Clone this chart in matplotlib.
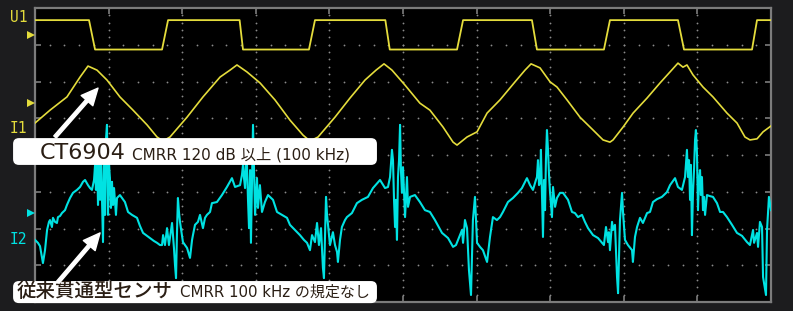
import numpy as np
import matplotlib
matplotlib.use("Agg")
import matplotlib.pyplot as plt
from matplotlib.patches import FancyBboxPatch

# Latin glyphs from DejaVu, Japanese falls through to Noto CJK
plt.rcParams['font.family'] = ['DejaVu Sans', 'Noto Sans CJK JP']

# scope screen: 5 us/div over 10 div, vertical in div from screen centre (+-4)
# U1 - square wave corners
u1_t = [0, 3.67, 4.08, 8.63, 9.04, 13.9, 14.13, 18.61, 19.02, 23.8, 24.1,
        28.67, 29.08, 33.76, 34.1, 38.65, 39.06, 43.68, 44.09, 48.71, 49.05, 50]
u1_v = [3.67, 3.67, 2.87, 2.87, 3.67, 3.67, 2.87, 2.87, 3.67, 3.67, 2.87,
        2.87, 3.67, 3.67, 2.87, 2.87, 3.67, 3.67, 2.87, 2.87, 3.67, 3.67]

# I1 - CT6904 current (t, v)
i1_pts = [(0.00, 0.87), (1.02, 1.22), (2.17, 1.58), (3.06, 2.12), (3.60, 2.42), (4.21, 2.31),
          (4.89, 2.04), (5.77, 1.58), (6.66, 1.22), (7.61, 0.82), (8.29, 0.49), (8.70, 0.38),
          (9.17, 0.49), (10.33, 1.03), (11.41, 1.58), (12.57, 2.12), (13.25, 2.31), (13.72, 2.45),
          (14.40, 2.26), (15.29, 1.96), (16.30, 1.50), (17.32, 0.95), (18.21, 0.54), (18.68, 0.38),
          (19.23, 0.49), (20.38, 1.03), (21.40, 1.55), (22.42, 2.04), (23.17, 2.31), (23.71, 2.48),
          (24.25, 2.31), (25.14, 1.90), (26.15, 1.41), (26.83, 1.22), (27.72, 0.76), (28.40, 0.35),
          (28.67, 0.27), (29.35, 0.49), (30.03, 0.63), (30.71, 1.14), (31.59, 1.50), (32.61, 1.99),
          (33.29, 2.31), (33.70, 2.48), (34.31, 2.37), (34.99, 1.99), (35.46, 1.85), (36.14, 1.50),
          (37.02, 1.03), (37.91, 0.68), (38.59, 0.41), (39.06, 0.35), (39.27, 0.41), (39.95, 0.76),
          (40.63, 1.14), (41.58, 1.55), (42.46, 1.96), (43.14, 2.26), (43.68, 2.50), (44.02, 2.39),
          (44.29, 2.45), (44.70, 2.18), (45.38, 1.85), (46.06, 1.58), (47.01, 1.14), (47.69, 0.87),
          (48.23, 0.49), (48.57, 0.41), (49.05, 0.44), (49.46, 0.63), (50.00, 0.79)]

# I2 - conventional through-type sensor (t, v)
i2_pts = [
    # period 1
    (0.00, -2.31), (0.20, -2.39), (0.34, -2.48), (0.54, -2.94), (0.68, -2.59), (0.82, -2.04),
    (0.95, -1.82), (1.02, -1.77), (1.15, -1.96), (1.22, -1.71), (1.36, -1.82), (1.49, -1.85),
    (1.56, -1.69), (1.70, -1.66), (1.83, -1.58), (2.04, -1.50), (2.17, -1.36), (2.38, -1.17),
    (2.58, -1.03), (2.85, -0.95), (3.06, -0.87), (3.26, -0.73), (3.40, -0.68), (3.60, -0.82),
    (3.74, -0.90), (3.87, -0.95), (4.01, -0.68), (4.08, -0.27), (4.14, -0.95), (4.21, 0.14),
    (4.28, -1.36), (4.35, 0.14), (4.42, -1.22), (4.48, 0.00), (4.62, -2.37), (4.69, 0.14),
    (4.76, -1.63), (4.82, 0.41), (4.89, 0.82), (4.96, -1.63), (5.03, -0.27), (5.09, -0.63),
    (5.16, -1.44), (5.23, -0.73), (5.30, -1.36), (5.37, -0.90), (5.50, -1.63), (5.57, -1.17),
    (5.77, -1.09), (6.11, -1.28), (6.32, -1.55), (6.59, -1.63), (6.93, -1.71), (7.13, -1.93),
    (7.34, -2.12), (7.61, -2.20), (7.81, -2.26), (8.08, -2.34), (8.29, -2.39), (8.49, -2.45),
    (8.63, -2.45), (8.70, -2.18), (8.83, -2.45), (8.97, -1.99), (9.10, -2.45), (9.31, -1.85),
    (9.44, -2.53), (9.51, -2.99), (9.58, -3.35), (9.65, -2.04), (9.71, -1.17), (9.78, -1.55),
    (9.85, -1.82), (10.05, -2.37), (10.19, -2.45), (10.33, -2.53), (10.53, -2.80), (10.67, -2.31),
    (10.73, -2.18), (10.87, -1.90), (11.07, -1.82), (11.21, -1.63), (11.41, -1.99), (11.55, -1.71),
    (11.68, -1.63), (11.89, -1.55), (12.02, -1.31), (12.36, -1.28), (12.70, -1.09), (13.04, -0.87),
    (13.38, -0.63), (13.59, -0.87), (13.79, -0.84), (13.93, -0.82), (14.06, -0.54),
    # period 2
    (14.13, -0.27), (14.20, -0.63), (14.27, -0.90), (14.33, -0.14), (14.40, -0.27), (14.47, -1.22),
    (14.54, -1.99), (14.61, -0.41), (14.67, -2.39), (14.74, -0.73), (14.81, 0.82), (14.88, -0.41),
    (14.95, -1.63), (15.08, -0.63), (15.15, -1.44), (15.28, -0.82), (15.42, -1.55), (15.62, -1.28),
    (15.83, -1.09), (16.17, -1.22), (16.44, -1.55), (16.78, -1.63), (17.12, -1.71), (17.32, -1.90),
    (17.66, -2.04), (18.00, -2.18), (18.27, -2.31), (18.48, -2.39), (18.68, -2.59), (18.82, -2.18),
    (19.02, -2.37), (19.16, -1.85), (19.29, -2.45), (19.43, -1.99), (19.56, -3.07), (19.63, -3.35),
    (19.77, -1.14), (19.84, -1.63), (20.04, -2.45), (20.24, -2.10), (20.38, -2.45), (20.52, -2.64),
    (20.58, -2.91), (20.72, -2.31), (20.85, -1.96), (21.06, -1.77), (21.19, -1.69), (21.53, -1.58),
    (21.87, -1.31), (22.21, -1.22), (22.62, -1.14), (22.96, -0.90), (23.44, -0.68), (23.78, -0.90),
    (23.98, -0.87),
    # period 3
    (24.12, -0.60), (24.18, -0.27), (24.25, 0.14), (24.32, -0.14), (24.39, -1.22), (24.46, -1.96),
    (24.52, -1.22), (24.59, -2.31), (24.66, -0.60), (24.73, -0.14), (24.80, 0.82), (24.86, -0.41),
    (24.93, -1.03), (25.00, -0.33), (25.14, -1.69), (25.27, -0.60), (25.34, -1.41), (25.48, -1.14),
    (25.81, -1.09), (26.15, -1.28), (26.49, -1.50), (26.83, -1.55), (27.17, -1.77), (27.65, -2.12),
    (28.06, -2.26), (28.40, -2.50), (28.60, -2.45), (28.74, -2.31), (28.87, -2.18), (29.01, -2.04),
    (29.08, -2.39), (29.21, -1.77), (29.35, -1.99), (29.48, -3.13), (29.62, -3.81), (29.75, -1.77),
    (29.89, -1.14), (30.03, -2.39), (30.23, -2.50), (30.43, -2.59), (30.71, -2.91), (30.91, -2.23),
    (31.11, -1.69), (31.38, -1.77), (31.59, -1.69), (31.79, -1.55), (32.13, -1.28), (32.47, -1.17),
    (32.81, -1.03), (33.08, -0.90), (33.42, -0.63), (33.63, -0.82), (33.83, -0.95), (34.03, -0.68),
    # period 4
    (34.10, -0.60), (34.17, -0.14), (34.24, -0.82), (34.31, -0.76), (34.37, 0.14), (34.51, -2.23),
    (34.58, -0.68), (34.65, -1.50), (34.71, -0.14), (34.78, 0.68), (34.85, 0.14), (34.92, -0.54),
    (34.99, -1.03), (35.12, -1.69), (35.19, -0.87), (35.33, -1.41), (35.46, -1.17), (35.67, -1.03),
    (35.87, -1.03), (36.21, -1.22), (36.48, -1.55), (36.68, -1.58), (36.89, -1.69), (37.16, -1.63),
    (37.36, -1.82), (37.57, -1.99), (37.91, -2.18), (38.25, -2.26), (38.52, -2.39), (38.65, -2.45),
    (38.79, -1.96), (38.93, -2.37), (38.99, -2.10), (39.06, -2.59), (39.20, -1.82), (39.27, -2.04),
    (39.40, -1.90), (39.54, -3.32), (39.61, -3.76), (39.74, -1.77), (39.88, -1.03), (39.95, -1.58),
    (40.08, -2.31), (40.28, -2.45), (40.56, -2.59), (40.62, -2.91), (40.76, -2.23), (40.90, -1.96),
    (41.10, -1.71), (41.30, -1.85), (41.58, -1.58), (41.78, -1.55), (41.98, -1.28), (42.26, -1.20),
    (42.59, -1.14), (42.93, -1.01), (43.14, -0.82), (43.48, -0.63), (43.68, -0.87), (43.95, -0.95),
    (44.16, -0.60),
    # period 5
    (44.22, -0.27), (44.29, 0.14), (44.36, -0.60), (44.43, -0.14), (44.50, -1.22), (44.56, -0.27),
    (44.63, -2.18), (44.70, -1.03), (44.77, -0.41), (44.84, 0.41), (44.90, 0.68), (44.97, 0.05),
    (45.04, -1.50), (45.11, -0.68), (45.18, -0.41), (45.24, -1.09), (45.31, -0.60), (45.38, -1.50),
    (45.45, -1.14), (45.52, -1.63), (45.65, -1.09), (45.86, -1.12), (46.06, -1.14), (46.33, -1.31),
    (46.54, -1.55), (46.74, -1.55), (47.01, -1.69), (47.35, -1.90), (47.69, -2.12), (48.03, -2.20),
    (48.37, -2.37), (48.57, -2.45), (48.78, -2.04), (48.85, -2.39), (49.05, -2.12), (49.12, -2.50),
    (49.25, -1.82), (49.39, -1.96), (49.46, -3.32), (49.66, -3.81), (49.73, -2.04), (49.86, -1.14),
    (50.00, -1.50),
]

ch_names = ["U1", "I1", "I2"]
ch_label_v = [3.73, 0.73, -2.31]
ch_ground_v = [3.27, 1.41, -1.58]

label_main = ["CT6904", "従来貫通型センサ"]
label_sub = ["CMRR 120 dB 以上 (100 kHz)", "CMRR 100 kHz の規定なし"]

YEL = '#e4dc3c'
CYA = '#00e2e2'
GRID = '#8a8a8a'
EDGE = '#7c7c7c'
INK = '#2a1e14'

fig = plt.figure(figsize=(7.93, 3.11), dpi=100, facecolor='#1c1c1e')
ax = fig.add_axes([35 / 793, 9 / 311, 736 / 793, 294 / 311])
ax.set_facecolor('black')
ax.set_xlim(0, 50)
ax.set_ylim(-4, 4)

# dotted graticule, 5 dots per division
for x in range(5, 50, 5):
    ax.plot(np.full(41, x), np.linspace(-4, 4, 41), ls='none', marker='o',
            ms=1.3, mew=0, color=GRID, zorder=1)
for y in range(-3, 4):
    ax.plot(np.arange(0, 51, 1), np.full(51, y), ls='none', marker='o',
            ms=1.3, mew=0, color=GRID, zorder=1)

ax.set_xticks(np.arange(0, 51, 5))
ax.set_yticks(np.arange(-4, 5, 1))
ax.tick_params(direction='in', length=4, width=1.2, color=EDGE,
               top=True, right=True, labelleft=False, labelbottom=False)
for s in ax.spines.values():
    s.set_color(EDGE)
    s.set_linewidth(1.6)

# traces
ax.plot(u1_t, u1_v, color=YEL, lw=1.3, zorder=3)
t1, v1 = zip(*i1_pts)
ax.plot(t1, v1, color=YEL, lw=1.2, zorder=3)
t2, v2 = zip(*i2_pts)
ax.plot(t2, v2, color=CYA, lw=1.5, zorder=3)

# channel names and ground markers
ch_cols = [YEL, YEL, CYA]
for name, lv, c in zip(ch_names, ch_label_v, ch_cols):
    ax.text(-1.70, lv, name, color=c, fontsize=10.5, family='DejaVu Sans Mono',
            va='center', ha='left', clip_on=False)
for gv, c in zip(ch_ground_v, ch_cols):
    ax.plot([-0.3], [gv], marker='>', ms=6, color=c, mew=0, clip_on=False, zorder=4)

# caption boxes
box_y = [-0.27, -4.03]
box_h = [0.73, 0.60]
for y0, h in zip(box_y, box_h):
    ax.add_patch(FancyBboxPatch((-1.49, y0), 24.72, h,
                                boxstyle="round,pad=0,rounding_size=0.4",
                                mutation_aspect=0.4, fc='white', ec='none',
                                clip_on=False, zorder=5))

ax.text(0.34, -0.11, label_main[0], fontsize=16, color=INK, va='baseline',
        zorder=6, clip_on=False)
ax.text(6.59, -0.11, label_sub[0], fontsize=11, color=INK, va='baseline',
        zorder=6, clip_on=False)
ax.text(-1.22, -3.86, label_main[1], fontsize=14, color=INK, va='baseline',
        family=['Noto Sans CJK JP'], fontweight='medium', zorder=6, clip_on=False)
ax.text(9.85, -3.86, label_sub[1], fontsize=10.8, color=INK, va='baseline',
        zorder=6, clip_on=False)

# pointer arrows
arrow_tips = [(4.28, 1.82), (4.42, -2.12)]
arrow_tails = [(1.36, 0.49), (1.56, -3.46)]
for tip, tail in zip(arrow_tips, arrow_tails):
    ax.annotate("", xy=tip, xytext=tail,
                arrowprops=dict(arrowstyle="simple,head_length=1.5,head_width=1.4,tail_width=0.3",
                                mutation_scale=8, fc='white', ec='white',
                                shrinkA=0, shrinkB=0),
                zorder=7, annotation_clip=False)

fig.savefig("out.png", dpi=100, facecolor=fig.get_facecolor())
